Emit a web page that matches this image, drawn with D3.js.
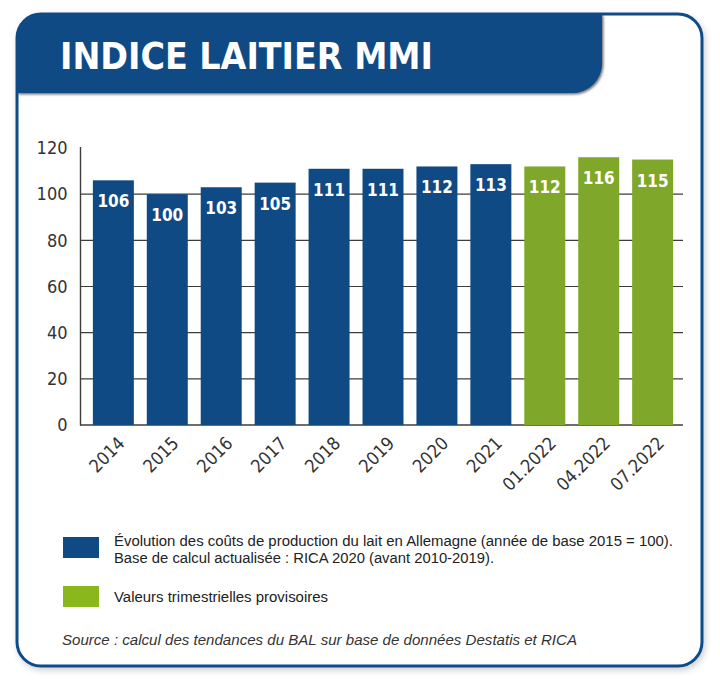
<!DOCTYPE html>
<html>
<head>
<meta charset="utf-8">
<script src="https://cdn.jsdelivr.net/npm/d3@7"></script>
<style>
  html, body { margin: 0; padding: 0; background: #ffffff; }
  svg { display: block; }
</style>
</head>
<body>
<svg id="chart" width="720" height="688"></svg>
<script>
// ---- data ----
const categories = ["2014", "2015", "2016", "2017", "2018", "2019", "2020", "2021", "01.2022", "04.2022", "07.2022"];
const values = [106, 100, 103, 105, 111, 111, 112, 113, 112, 116, 115];
const provisional = [false, false, false, false, false, false, false, false, true, true, true];
const yTickValues = [0, 20, 40, 60, 80, 100, 120];
const gridValues = [0, 20, 40, 60, 80, 100];
const title = "INDICE LAITIER MMI";
const legendItems = [
  { key: "final", lines: ["Évolution des coûts de production du lait en Allemagne (année de base 2015 = 100).", "Base de calcul actualisée : RICA 2020 (avant 2010-2019)."], widths: [559, 380] },
  { key: "prov", lines: ["Valeurs trimestrielles provisoires"], widths: [214] }
];
const sourceText = "Source : calcul des tendances du BAL sur base de données Destatis et RICA";

// ---- styles ----
const BLUE = "#0f4a85";
const GREEN = "#7fa72a";
const LEGEND_GREEN = "#8ab71c";
const FRAME = "#0e4c8a";

const svg = d3.select("#chart");
const defs = svg.append("defs");

const fShadow = defs.append("filter").attr("id", "frameShadow")
  .attr("x", "-5%").attr("y", "-5%").attr("width", "110%").attr("height", "110%");
fShadow.append("feDropShadow").attr("dx", 2).attr("dy", 3).attr("stdDeviation", 3)
  .attr("flood-color", "#000").attr("flood-opacity", 0.18);

const hShadow = defs.append("filter").attr("id", "headShadow")
  .attr("x", "-5%").attr("y", "-10%").attr("width", "110%").attr("height", "130%");
hShadow.append("feDropShadow").attr("dx", 1.5).attr("dy", 1.5).attr("stdDeviation", 1)
  .attr("flood-color", "#000").attr("flood-opacity", 0.55);

// frame
svg.append("rect")
  .attr("x", 17).attr("y", 14).attr("width", 685).attr("height", 652)
  .attr("rx", 24).attr("ry", 24)
  .attr("fill", "#ffffff").attr("stroke", FRAME).attr("stroke-width", 3)
  .attr("filter", "url(#frameShadow)");

// header band
const hx0 = 17, hy0 = 14, hx1 = 602, hy1 = 93, rTL = 24, rBR = 30;
const headerPath = d3.path();
headerPath.moveTo(hx0, hy1);
headerPath.lineTo(hx0, hy0 + rTL);
headerPath.arcTo(hx0, hy0, hx0 + rTL, hy0, rTL);
headerPath.lineTo(hx1, hy0);
headerPath.lineTo(hx1, hy1 - rBR);
headerPath.arcTo(hx1, hy1, hx1 - rBR, hy1, rBR);
headerPath.closePath();
svg.append("path").attr("d", headerPath.toString())
  .attr("fill", BLUE).attr("filter", "url(#headShadow)");
// redraw left frame edge over header shadow
svg.append("path").attr("d", headerPath.toString()).attr("fill", BLUE);

svg.append("text")
  .attr("x", 60).attr("y", 68.5)
  .attr("font-family", "'DejaVu Sans Condensed', 'DejaVu Sans', sans-serif")
  .attr("font-weight", "bold").attr("font-size", 38)
  .attr("fill", "#ffffff")
  .attr("textLength", 373).attr("lengthAdjust", "spacingAndGlyphs")
  .text(title);

// ---- scales ----
const x = d3.scaleBand().domain(categories).range([81, 685]).paddingInner(0.24).paddingOuter(0.22);
const y = d3.scaleLinear().domain([0, 120]).range([425, 148]);

const plot = svg.append("g");

// gridlines
plot.append("g").selectAll("line").data(gridValues).join("line")
  .attr("x1", 80).attr("x2", 683)
  .attr("y1", d => y(d)).attr("y2", d => y(d))
  .attr("stroke", "#3d3d3d").attr("stroke-width", d => d === 0 ? 1.6 : 1.2);

// bars
plot.append("g").selectAll("rect").data(categories).join("rect")
  .attr("x", d => x(d))
  .attr("y", (d, i) => y(values[i]))
  .attr("width", x.bandwidth())
  .attr("height", (d, i) => y(0) - y(values[i]))
  .attr("fill", (d, i) => provisional[i] ? GREEN : BLUE);

// value labels
plot.append("g").selectAll("text").data(categories).join("text")
  .attr("x", d => x(d) + x.bandwidth() / 2)
  .attr("y", (d, i) => y(values[i]) + 27)
  .attr("text-anchor", "middle")
  .attr("font-family", "'DejaVu Sans Condensed', 'DejaVu Sans', sans-serif")
  .attr("font-weight", "bold").attr("font-size", 17)
  .attr("fill", "#ffffff")
  .text((d, i) => values[i]);

// y axis
const yAxis = d3.axisLeft(y).tickValues(yTickValues).tickSize(0).tickPadding(13);
const yg = plot.append("g").attr("transform", "translate(80.5,0)").call(yAxis);
yg.select(".domain").attr("stroke", "#3d3d3d").attr("stroke-width", 1.4)
  .attr("d", `M0,${y(0) + 0.5}V147`);
yg.selectAll("text")
  .attr("font-family", "'DejaVu Sans Condensed', 'DejaVu Sans', sans-serif")
  .attr("font-size", 18).attr("fill", "#333333");

// x axis labels
const xAxis = d3.axisBottom(x).tickSize(0).tickPadding(0);
const xg = plot.append("g").attr("transform", `translate(0,${y(0)})`).call(xAxis);
xg.select(".domain").remove();
xg.selectAll("text")
  .attr("font-family", "'DejaVu Sans Condensed', 'DejaVu Sans', sans-serif")
  .attr("font-size", 18).attr("fill", "#333333")
  .attr("text-anchor", "end")
  .attr("dy", null).attr("y", 0).attr("x", 0)
  .attr("transform", "translate(9,16) rotate(-45)")
  .attr("dominant-baseline", "middle");

// legend
const legendColor = { final: BLUE, prov: LEGEND_GREEN };
const legendTop = [537, 586];
legendItems.forEach((item, k) => {
  svg.append("rect")
    .attr("x", 63).attr("y", legendTop[k]).attr("width", 36).attr("height", 21)
    .attr("fill", legendColor[item.key]);
  item.lines.forEach((line, j) => {
    const baseY = item.lines.length === 2 ? legendTop[k] + 9 + j * 17 : legendTop[k] + 16;
    svg.append("text")
      .attr("x", 114).attr("y", baseY)
      .attr("font-family", "'Liberation Sans', Arial, sans-serif")
      .attr("font-size", 14).attr("fill", "#222222")
      .attr("textLength", item.widths[j]).attr("lengthAdjust", "spacingAndGlyphs")
      .text(line);
  });
});

svg.append("text")
  .attr("x", 62).attr("y", 645)
  .attr("font-family", "'Liberation Sans', Arial, sans-serif")
  .attr("font-style", "italic").attr("font-size", 15).attr("fill", "#333333")
  .attr("textLength", 515).attr("lengthAdjust", "spacingAndGlyphs")
  .text(sourceText);
</script>
</body>
</html>
